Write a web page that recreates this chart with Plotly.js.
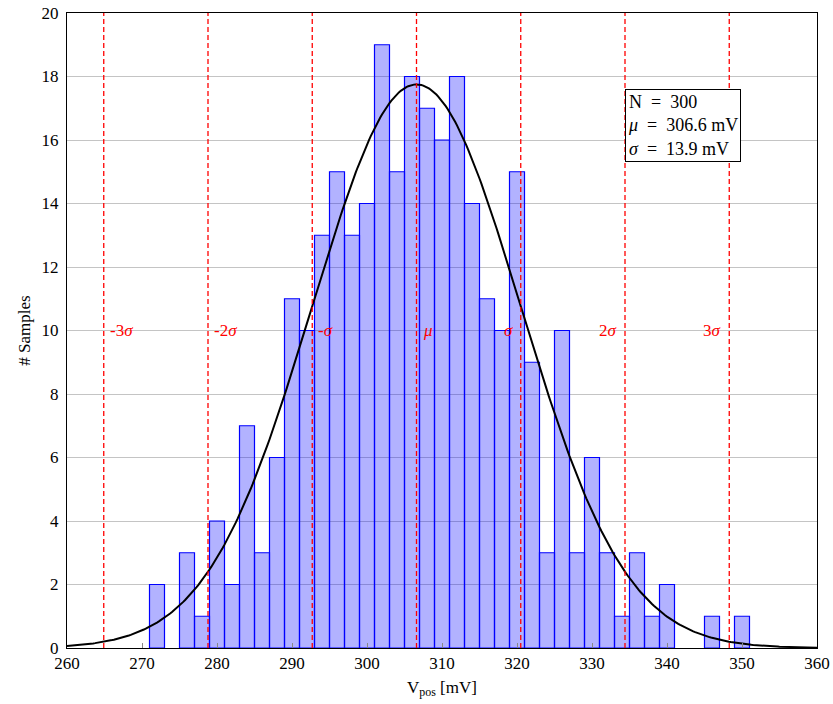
<!DOCTYPE html>
<html>
<head>
<meta charset="utf-8">
<script src="https://cdn.plot.ly/plotly-3.0.1.min.js"></script>
<style>
  html, body { margin: 0; padding: 0; background: #fff; }
  #chart { width: 833px; height: 704px; }
</style>
</head>
<body>
<div id="chart"></div>
<script>
// Histogram of V_pos samples: 2 mV bins, left edges from 271 mV
const binLeft = [271, 273, 275, 277, 279, 281, 283, 285, 287, 289,
                 291, 293, 295, 297, 299, 301, 303, 305, 307, 309,
                 311, 313, 315, 317, 319, 321, 323, 325, 327, 329,
                 331, 333, 335, 337, 339, 341, 343, 345, 347, 349];
const counts  = [2, 0, 3, 1, 4, 2, 7, 3, 6, 11,
                 10, 13, 15, 13, 14, 19, 15, 18, 17, 16,
                 18, 14, 11, 10, 15, 9, 3, 10, 3, 6,
                 3, 1, 3, 1, 2, 0, 0, 1, 0, 1];
const binWidth = 2;

// Fit parameters
const nSamples = 300;
const mu = 306.6;
const sigma = 13.9;
const curvePeak = 17.75;

// Sigma markers
const sigmaSteps  = [-3, -2, -1, 0, 1, 2, 3];
const sigmaLabels = ['-3<i>σ</i>', '-2<i>σ</i>', '-<i>σ</i>', '<i>μ</i>', '<i>σ</i>', '2<i>σ</i>', '3<i>σ</i>'];
const labelLevel = 10;

const xTicks = [260, 270, 280, 290, 300, 310, 320, 330, 340, 350, 360];
const yTicks = [0, 2, 4, 6, 8, 10, 12, 14, 16, 18, 20];

const FONT = 'Liberation Serif, DejaVu Serif, serif';

// bars (empty bins are not drawn)
const barX = [], barY = [];
binLeft.forEach((b, i) => {
  if (counts[i] > 0) { barX.push(b + binWidth / 2); barY.push(counts[i]); }
});

// Gaussian fit curve over the axis range
const curveX = [], curveY = [];
for (let v = 260; v <= 360.0001; v += 0.25) {
  const z = (v - mu) / sigma;
  curveX.push(v);
  curveY.push(curvePeak * Math.exp(-0.5 * z * z));
}

const traces = [
  {
    type: 'bar', x: barX, y: barY, width: binWidth,
    marker: { color: 'rgba(0,0,255,0.3)', line: { color: '#0000ff', width: 1.2 } },
    hoverinfo: 'x+y', showlegend: false
  },
  {
    type: 'scatter', mode: 'lines', x: curveX, y: curveY,
    line: { color: '#000', width: 2 }, showlegend: false, hoverinfo: 'skip'
  }
];

const shapes = sigmaSteps.map(k => ({
  type: 'line', xref: 'x', yref: 'paper',
  x0: mu + k * sigma, x1: mu + k * sigma, y0: 0, y1: 1,
  line: { color: '#ff0000', width: 1.3, dash: '5px,3px' }, layer: 'above'
}));

const annotations = sigmaSteps.map((k, i) => ({
  x: mu + k * sigma, y: labelLevel, xref: 'x', yref: 'y',
  text: sigmaLabels[i], showarrow: false,
  xanchor: k <= 0 ? 'left' : 'right',
  xshift: k <= 0 ? 4 : -6,
  yanchor: 'middle',
  font: { family: FONT, size: 17, color: '#ff0000' }
}));

annotations.push({
  x: mu + 2 * sigma, y: 17.62, xref: 'x', yref: 'y',
  xanchor: 'left', yanchor: 'top', showarrow: false, align: 'left',
  text: 'N  =  300<br><i>μ</i>  =  306.6 mV<br><i>σ</i>  =  13.9 mV',
  font: { family: FONT, size: 18, color: '#000' },
  bgcolor: '#ffffff', bordercolor: '#000', borderwidth: 1, borderpad: 2
});

const layout = {
  width: 833, height: 704,
  margin: { l: 67, r: 16, t: 13, b: 56 },
  paper_bgcolor: '#fff', plot_bgcolor: '#fff',
  bargap: 0,
  font: { family: FONT, size: 17, color: '#000' },
  xaxis: {
    range: [260, 360], tickvals: xTicks, ticktext: xTicks.map(String),
    showgrid: false, zeroline: false,
    showline: true, mirror: true, linecolor: '#000', linewidth: 1,
    ticks: 'inside', ticklen: 5, tickcolor: '#888', tickwidth: 1,
    title: { text: 'V<sub>pos</sub> [mV]', font: { family: FONT, size: 17 }, standoff: 8 },
    tickfont: { family: FONT, size: 17 }
  },
  yaxis: {
    range: [0, 20], tickvals: yTicks, ticktext: yTicks.map(String),
    showgrid: true, gridcolor: '#c4c4c4', gridwidth: 1, zeroline: false,
    showline: true, mirror: true, linecolor: '#000', linewidth: 1,
    ticks: '', ticklabelstandoff: 4,
    title: { text: '# Samples', font: { family: FONT, size: 17 }, standoff: 6 },
    tickfont: { family: FONT, size: 17 }
  },
  shapes: shapes,
  annotations: annotations
};

Plotly.newPlot('chart', traces, layout, { displayModeBar: false, staticPlot: true });
</script>
</body>
</html>
